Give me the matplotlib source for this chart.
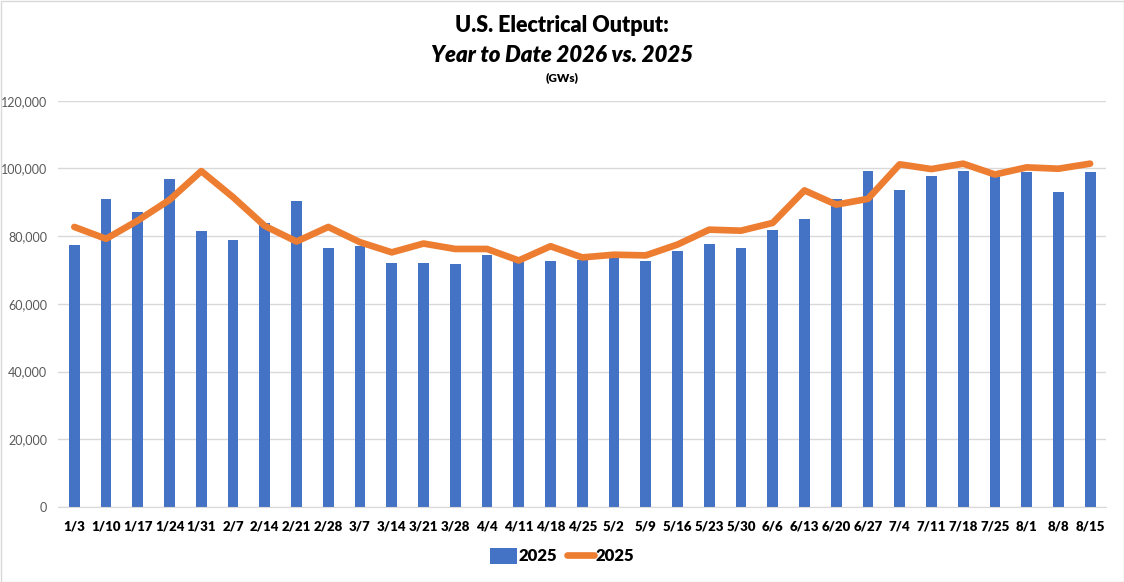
import matplotlib.pyplot as plt
import numpy as np
from matplotlib.ticker import FuncFormatter
from matplotlib.patches import Rectangle

plt.rcParams['font.family'] = ['Lato', 'DejaVu Sans']

weeks = ['1/3', '1/10', '1/17', '1/24', '1/31', '2/7', '2/14', '2/21', '2/28', '3/7',
         '3/14', '3/21', '3/28', '4/4', '4/11', '4/18', '4/25', '5/2', '5/9', '5/16',
         '5/23', '5/30', '6/6', '6/13', '6/20', '6/27', '7/4', '7/11', '7/18', '7/25',
         '8/1', '8/8', '8/15']
bars_2025 = [77500, 91000, 87200, 97000, 81600, 78900, 84000, 90500, 76600, 77200,
             72200, 72200, 71900, 74300, 72300, 72500, 73000, 73500, 72500, 75700,
             77800, 76600, 81900, 85100, 91000, 99300, 93700, 97900, 99300, 98000,
             99000, 93100, 99000]
line_2025 = [82700, 79200, 84600, 90700, 99200, 91500, 83000, 78400, 82700, 78200,
             75200, 77800, 76200, 76200, 72800, 77000, 73700, 74500, 74300, 77500,
             81900, 81600, 83900, 93500, 89300, 91000, 101200, 99800, 101400, 98200,
             100300, 99900, 101400]

BLUE = '#4472C4'
ORANGE = '#ED7D31'

fig = plt.figure(figsize=(11.24, 5.82), dpi=100)
ax = fig.add_axes([0.052, 0.129, 0.932, 0.698])

x = np.arange(len(weeks))
bars = ax.bar(x, bars_2025, width=0.34, color=BLUE, label='2025', zorder=2)
line, = ax.plot(x, line_2025, color=ORANGE, lw=4.8, solid_joinstyle='round',
                solid_capstyle='round', label='2025', zorder=3)

ax.set_xlim(-0.5, len(weeks) - 0.5)
ax.set_ylim(0, 120000)
ax.set_yticks(np.arange(0, 120001, 20000))
ax.yaxis.set_major_formatter(FuncFormatter(lambda v, p: f'{int(v):,}'))
ax.set_xticks(x)
ax.set_xticklabels(weeks, fontsize=9.5, fontweight='heavy', color='black')
ax.tick_params(axis='y', labelsize=9, labelcolor='#595959', length=0, pad=8)
ax.tick_params(axis='x', length=0, pad=10)

# remove spines
for s in ['left', 'right', 'top']:
    ax.spines[s].set_visible(False)
ax.spines['bottom'].set_color('#d9d9d9')

# grid
ax.set_axisbelow(True)
ax.yaxis.grid(color='#d9d9d9', lw=1)

fig.text(0.5, 1 - 26 / 582, 'U.S. Electrical Output:', ha='center', va='center',
         fontsize=15.5, fontweight='heavy')
fig.text(0.5, 1 - 55 / 582, 'Year to Date 2026 vs. 2025', ha='center', va='center',
         fontsize=16, fontweight='heavy', style='italic')
fig.text(0.5, 1 - 78 / 582, '(GWs)', ha='center', va='center',
         fontsize=8.5, fontweight='heavy')

fig.legend([bars, line], ['2025', '2025'], loc='center',
           bbox_to_anchor=(0.5, 1 - 556 / 582), ncol=2,
           frameon=False, prop={'weight': 'heavy', 'size': 12},
           handlelength=1.6, handleheight=1.1, columnspacing=0.6,
           handletextpad=0.1)

fig.patches.append(Rectangle((0.5 / 1124, 0.5 / 582), 1 - 1 / 1124, 1 - 1 / 582,
                             transform=fig.transFigure, fill=False,
                             edgecolor='#d9d9d9', lw=1))

fig.savefig('out.png', dpi=100)
